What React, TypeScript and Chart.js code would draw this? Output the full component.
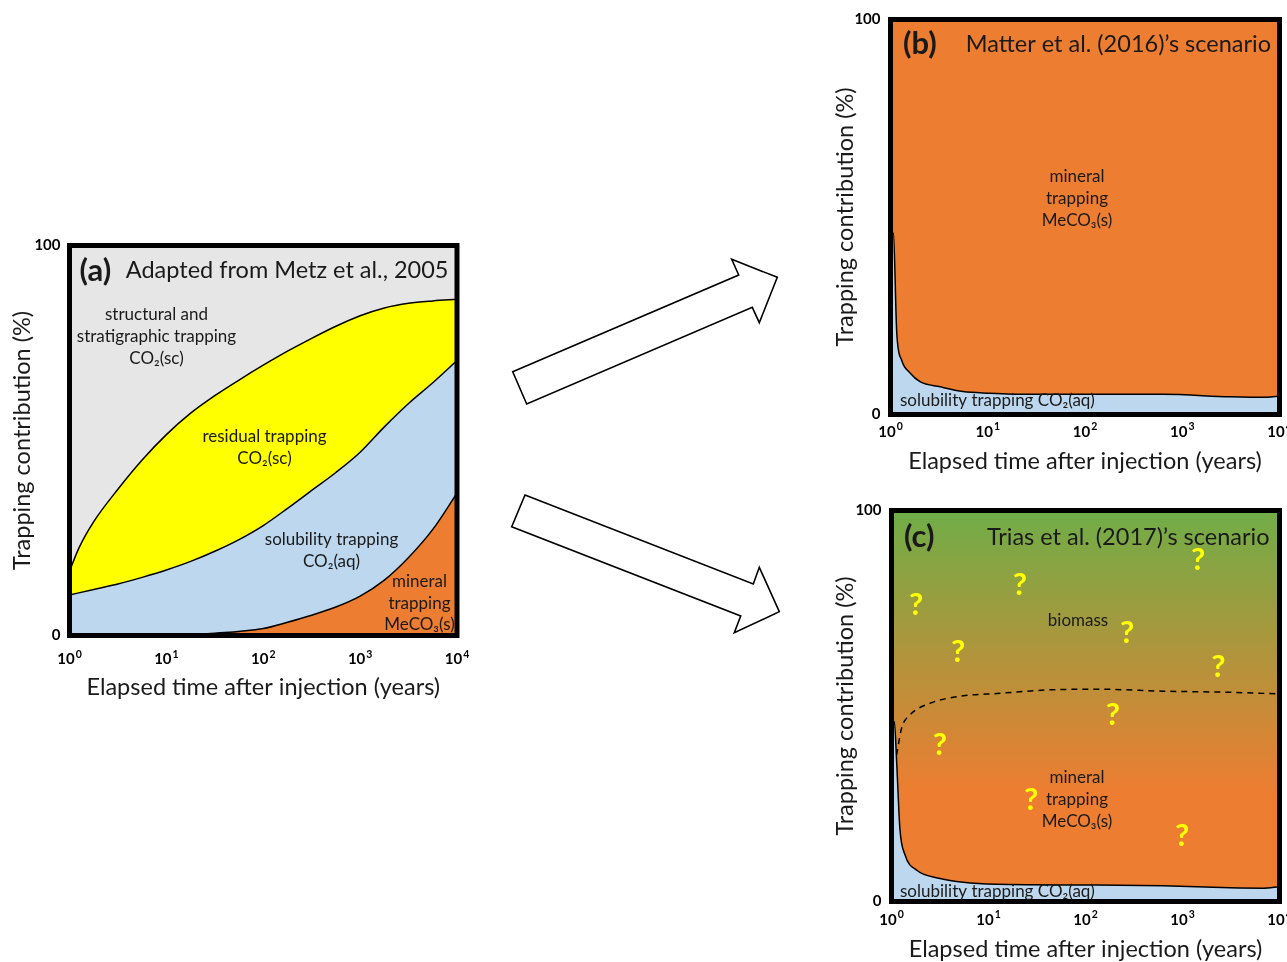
import React, { useEffect, useRef } from "react";
import { Chart, registerables } from "chart.js";

Chart.register(...registerables);

const FONT = 'Lato, "Noto Sans", "DejaVu Sans", sans-serif';

// ---- shared axes ----
const xTickValues = [1, 10, 100, 1000, 10000];
const xTickBase = "10";
const xTickExponents = ["0", "1", "2", "3", "4"];
const yTickValues = [0, 100];
const yTickLabels = ["0", "100"];
const xTitle = "Elapsed time after injection (years)";
const yTitle = "Trapping contribution (%)";

// total (100 %) boundary
const totalX = [1, 10000];
const totalY = [100, 100];

// ---- panel (a): Metz et al., 2005 ----
const aResidualTopX = [1, 1.26, 1.78, 3.16, 5.62, 10, 17.8, 31.6, 56.2, 100, 178, 316, 562, 1000, 1778, 3162, 5623, 10000];
const aResidualTopY = [16.5, 22.6, 29.2, 37.5, 45, 51.5, 57, 61.5, 65.5, 69.3, 72.9, 76.2, 79.3, 82, 84, 85.2, 85.8, 86.2];
const aSolubilityTopX = [1, 1.78, 3.16, 5.62, 10, 17.8, 31.6, 56.2, 100, 178, 316, 562, 1000, 1778, 3162, 5623, 10000];
const aSolubilityTopY = [10.4, 11.8, 13.2, 14.9, 16.8, 19, 21.6, 24.6, 28.2, 32.6, 37.2, 41.8, 47, 53.5, 59.5, 64.8, 70.5];
const aMineralTopX = [1, 10, 31.6, 100, 178, 316, 562, 1000, 1778, 3162, 5623, 10000];
const aMineralTopY = [0, 0.2, 0.6, 1.8, 3.4, 5.2, 7.3, 10.1, 14.2, 20, 27.2, 36.5];

// ---- panel (b): Matter et al. (2016) ----
const bSolubilityX = [1, 1.07, 1.16, 1.3, 1.59, 2.01, 3.23, 5.56, 10.5, 27.2, 631, 3090, 7413, 10000];
const bSolubilityY = [46, 45.9, 20.6, 13.8, 10.5, 8.3, 7.0, 5.8, 5.4, 5.1, 5.1, 4.5, 4.35, 4.7];

// ---- panel (c): Trias et al. (2017) ----
const cSolubilityX = [1, 1.07, 1.13, 1.22, 1.38, 1.82, 3.16, 5.5, 12.2, 130, 631, 3090, 6760, 10000];
const cSolubilityY = [46, 46, 35.7, 18.7, 11.9, 8.0, 5.9, 4.9, 4.4, 4.2, 4.0, 3.5, 3.4, 3.8];
const cBiomassX = [1.13, 1.27, 1.55, 2.49, 5.5, 12.2, 39.8, 130, 631, 3090, 10000];
const cBiomassY = [37.5, 44.3, 47.7, 50.7, 52.6, 53.2, 54.1, 54.3, 53.8, 53.5, 53.1];
const cQuestionX = [1445, 21.1, 1.79, 269, 4.85, 2344, 192, 3.16, 27.5, 994];
const cQuestionY = [87.3, 80.9, 75.8, 68.7, 63.8, 60.0, 47.7, 40.0, 25.9, 16.8];

const GRAY = "#e6e6e6";
const YELLOW = "#ffff00";
const BLUE = "#bdd7ee";
const ORANGE = "#ed7d31";
const GREEN = "#70ad47";
const TEXT = "#1a1a1a";

const pts = (xs: number[], ys: number[]) => xs.map((x, i) => ({ x, y: ys[i] }));

type Label = { text: string; dx: number; dy: number; align?: CanvasTextAlign; size?: number; bold?: boolean; color?: string };

type PanelOpts = {
  datasets: any[];
  width: number;
  height: number;
  padTop: number;
  padRight: number;
  yAxisW: number;
  xAxisH: number;
  xTickOffset: number;
  xTitlePad: number;
  yTickPad: number;
  yTitlePad: number;
  labels: Label[];
  gradient?: boolean;
};

function buildConfig(o: PanelOpts): any {
  const panelPlugin = {
    id: "panelDecor",
    beforeDatasetsDraw(chart: any) {
      if (!o.gradient) return;
      const { ctx, chartArea: a } = chart;
      const g = ctx.createLinearGradient(0, a.top, 0, a.bottom);
      g.addColorStop(0, GREEN);
      g.addColorStop(0.72, ORANGE);
      g.addColorStop(1, ORANGE);
      ctx.save();
      ctx.fillStyle = g;
      ctx.fillRect(a.left, a.top, a.right - a.left, a.bottom - a.top);
      ctx.restore();
    },
    afterDatasetsDraw(chart: any) {
      const { ctx, chartArea: a } = chart;
      ctx.save();
      chart.data.datasets.forEach((ds: any, i: number) => {
        if (!ds.questionMarks) return;
        const meta = chart.getDatasetMeta(i);
        ctx.fillStyle = "#ffff00";
        ctx.font = `bold 31px ${FONT}`;
        ctx.textAlign = "center";
        ctx.textBaseline = "middle";
        meta.data.forEach((el: any) => ctx.fillText("?", el.x, el.y));
      });
      ctx.strokeStyle = "#000";
      ctx.lineWidth = 5;
      ctx.strokeRect(a.left, a.top, a.right - a.left, a.bottom - a.top);
      o.labels.forEach((l) => {
        ctx.font = `${l.bold ? "bold " : ""}${l.size || 17}px ${FONT}`;
        ctx.fillStyle = l.color || TEXT;
        ctx.textAlign = l.align || "center";
        ctx.textBaseline = "middle";
        ctx.fillText(l.text, a.left + l.dx, a.top + l.dy);
      });
      ctx.restore();
    },
    afterDraw(chart: any) {
      // x tick labels as 10 with a raised exponent, placed by the x scale
      const { ctx, chartArea: a } = chart;
      const xs = chart.scales.x;
      ctx.save();
      ctx.fillStyle = "#000";
      ctx.textBaseline = "middle";
      ctx.textAlign = "left";
      xTickValues.forEach((v, i) => {
        const px = xs.getPixelForValue(v);
        const baseFont = `bold 15px ${FONT}`;
        const expFont = `bold 10.5px ${FONT}`;
        ctx.font = baseFont;
        const wb = ctx.measureText(xTickBase).width;
        ctx.font = expFont;
        const we = ctx.measureText(xTickExponents[i]).width;
        const x0 = px - (wb + we + 1) / 2;
        const y = a.bottom + o.xTickOffset;
        ctx.font = baseFont;
        ctx.fillText(xTickBase, x0, y);
        ctx.font = expFont;
        ctx.fillText(xTickExponents[i], x0 + wb + 1, y - 5);
      });
      ctx.restore();
    },
  };

  return {
    type: "line",
    data: { datasets: o.datasets },
    options: {
      responsive: false,
      maintainAspectRatio: false,
      animation: false,
      events: [],
      devicePixelRatio: 1,
      layout: { padding: { left: 0, top: o.padTop, right: o.padRight, bottom: 0 } },
      elements: {
        point: { radius: 0 },
        line: { borderColor: "#000", borderWidth: 1.5, cubicInterpolationMode: "monotone" },
      },
      plugins: { legend: { display: false }, tooltip: { enabled: false } },
      scales: {
        x: {
          type: "logarithmic",
          min: 1,
          max: 10000,
          afterBuildTicks: (s: any) => {
            s.ticks = xTickValues.map((v) => ({ value: v }));
          },
          afterFit: (s: any) => {
            s.height = o.xAxisH;
            s.paddingLeft = 0;
            s.paddingRight = 0;
          },
          ticks: { display: false, autoSkip: false, maxRotation: 0 },
          grid: { display: false, drawTicks: false },
          border: { display: false },
          title: {
            display: true,
            text: xTitle,
            color: TEXT,
            font: { family: FONT, size: 23.5 },
            padding: { top: 0, bottom: o.xTitlePad },
          },
        },
        y: {
          type: "linear",
          min: 0,
          max: 100,
          afterBuildTicks: (s: any) => {
            s.ticks = yTickValues.map((v) => ({ value: v }));
          },
          afterFit: (s: any) => {
            s.width = o.yAxisW;
            s.paddingTop = 0;
            s.paddingBottom = 0;
          },
          ticks: {
            padding: o.yTickPad,
            color: "#000",
            font: { family: FONT, size: 15, weight: "bold" },
            callback: (_v: any, i: number) => yTickLabels[i],
          },
          grid: { display: false, drawTicks: false },
          border: { display: false },
          title: {
            display: true,
            text: yTitle,
            color: TEXT,
            font: { family: FONT, size: 23.5 },
            padding: { top: o.yTitlePad, bottom: 0 },
          },
        },
      },
    },
    plugins: [panelPlugin],
  };
}

function Panel({ left, top, opts }: { left: number; top: number; opts: PanelOpts }) {
  const ref = useRef<HTMLCanvasElement>(null);
  useEffect(() => {
    const chart = new Chart(ref.current as HTMLCanvasElement, buildConfig(opts));
    return () => chart.destroy();
  }, []);
  return (
    <canvas
      ref={ref}
      width={opts.width}
      height={opts.height}
      style={{ position: "absolute", left, top, width: opts.width, height: opts.height }}
    />
  );
}

const panelA: PanelOpts = {
  width: 475,
  height: 480,
  padTop: 15.5,
  padRight: 18,
  yAxisW: 69.5,
  xAxisH: 74.5,
  xTickOffset: 24,
  xTitlePad: 8,
  yTickPad: 9,
  yTitlePad: 8,
  datasets: [
    { label: "mineral trapping", data: pts(aMineralTopX, aMineralTopY), backgroundColor: ORANGE, fill: "origin" },
    { label: "solubility trapping", data: pts(aSolubilityTopX, aSolubilityTopY), backgroundColor: BLUE, fill: "origin" },
    { label: "residual trapping", data: pts(aResidualTopX, aResidualTopY), backgroundColor: YELLOW, fill: "origin" },
    { label: "structural and stratigraphic trapping", data: pts(totalX, totalY), backgroundColor: GRAY, fill: "origin", borderWidth: 0 },
  ],
  labels: [
    { text: "(a)", dx: 10, dy: 25, align: "left", size: 31, bold: true },
    { text: "Adapted from Metz et al., 2005", dx: 379, dy: 25, align: "right", size: 23.5 },
    { text: "structural and", dx: 87, dy: 69 },
    { text: "stratigraphic trapping", dx: 87, dy: 91 },
    { text: "CO₂(sc)", dx: 87, dy: 113 },
    { text: "residual trapping", dx: 195, dy: 191 },
    { text: "CO₂(sc)", dx: 195, dy: 213 },
    { text: "solubility trapping", dx: 262, dy: 294 },
    { text: "CO₂(aq)", dx: 262, dy: 316 },
    { text: "mineral", dx: 350, dy: 336 },
    { text: "trapping", dx: 350, dy: 358 },
    { text: "MeCO₃(s)", dx: 350, dy: 379 },
  ],
};

const panelB: PanelOpts = {
  width: 457,
  height: 480,
  padTop: 19.5,
  padRight: 7.5,
  yAxisW: 60.5,
  xAxisH: 65.5,
  xTickOffset: 17.5,
  xTitlePad: 4,
  yTickPad: 10,
  yTitlePad: 1,
  datasets: [
    { label: "solubility trapping", data: pts(bSolubilityX, bSolubilityY), backgroundColor: BLUE, fill: "origin" },
    { label: "mineral trapping", data: pts(totalX, totalY), backgroundColor: ORANGE, fill: "origin", borderWidth: 0 },
  ],
  labels: [
    { text: "(b)", dx: 12.5, dy: 24.5, align: "left", size: 31, bold: true },
    { text: "Matter et al. (2016)’s scenario", dx: 380.5, dy: 24.5, align: "right", size: 23.5 },
    { text: "mineral", dx: 186.5, dy: 157.5 },
    { text: "trapping", dx: 186.5, dy: 179.5 },
    { text: "MeCO₃(s)", dx: 186.5, dy: 201.5 },
    { text: "solubility trapping CO₂(aq)", dx: 9.5, dy: 381.5, align: "left" },
  ],
};

const panelC: PanelOpts = {
  width: 457,
  height: 472,
  padTop: 20.5,
  padRight: 7.5,
  yAxisW: 61.5,
  xAxisH: 60.5,
  xTickOffset: 18.5,
  xTitlePad: -2,
  yTickPad: 10,
  yTitlePad: 1,
  gradient: true,
  datasets: [
    { label: "unknown", data: pts(cQuestionX, cQuestionY), showLine: false, questionMarks: true, pointRadius: 0 },
    { label: "biomass boundary", data: pts(cBiomassX, cBiomassY), fill: false, borderDash: [6, 5], borderWidth: 1.5 },
    { label: "solubility trapping", data: pts(cSolubilityX, cSolubilityY), backgroundColor: BLUE, fill: "origin" },
  ],
  labels: [
    { text: "(c)", dx: 12.5, dy: 26.5, align: "left", size: 31, bold: true },
    { text: "Trias et al. (2017)’s scenario", dx: 378, dy: 26.5, align: "right", size: 23.5 },
    { text: "biomass", dx: 186.5, dy: 110.5 },
    { text: "mineral", dx: 185.5, dy: 267.5 },
    { text: "trapping", dx: 185.5, dy: 289.5 },
    { text: "MeCO₃(s)", dx: 185.5, dy: 311.5 },
    { text: "solubility trapping CO₂(aq)", dx: 8.5, dy: 381.5, align: "left" },
  ],
};

export default function App() {
  return (
    <div style={{ position: "absolute", left: 0, top: 0, width: 1287, height: 962, background: "#fff", overflow: "hidden" }}>
      <Panel left={0} top={230} opts={panelA} />
      <Panel left={830} top={0} opts={panelB} />
      <Panel left={830} top={490} opts={panelC} />
      <svg width={1287} height={962} style={{ position: "absolute", left: 0, top: 0, pointerEvents: "none" }}>
        <polygon
          points="512.7,371.7 738.7,275 731.7,259.3 777.3,277.3 759.3,322.7 752.3,307.3 526.7,404"
          fill="#fff"
          stroke="#000"
          strokeWidth={1.6}
          strokeLinejoin="miter"
        />
        <polygon
          points="525,495 753.3,584 759.3,567.3 779.3,611.7 734.3,632.7 740.7,616 511.7,526.7"
          fill="#fff"
          stroke="#000"
          strokeWidth={1.6}
          strokeLinejoin="miter"
        />
      </svg>
    </div>
  );
}
